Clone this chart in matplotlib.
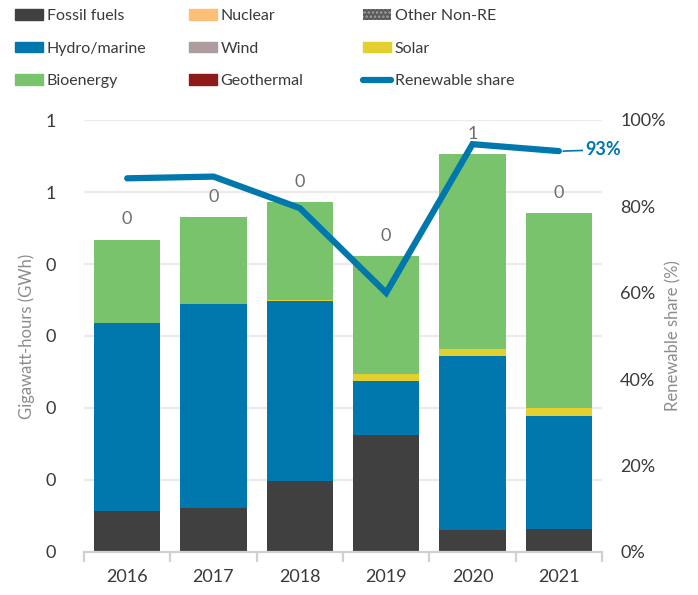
import math
import matplotlib
matplotlib.use("Agg")
import matplotlib.pyplot as plt
from matplotlib.patches import Patch
from matplotlib.lines import Line2D
from matplotlib.ticker import FuncFormatter, FixedLocator

plt.rcParams["font.family"] = ["Lato", "DejaVu Sans"]
plt.rcParams["hatch.linewidth"] = 1.2

years = ["2016", "2017", "2018", "2019", "2020", "2021"]
fossil = [0.057, 0.061, 0.098, 0.162, 0.030, 0.032]
nuclear = [0, 0, 0, 0, 0, 0]
other_non_re = [0, 0, 0, 0, 0, 0]
hydro = [0.261, 0.283, 0.250, 0.075, 0.242, 0.157]
wind = [0, 0, 0, 0, 0, 0]
solar = [0.0, 0.001, 0.002, 0.010, 0.010, 0.011]
bioenergy = [0.116, 0.120, 0.136, 0.164, 0.271, 0.271]
geothermal = [0, 0, 0, 0, 0, 0]
re_share = [86.5, 86.9, 79.6, 60.0, 94.4, 92.8]

C_FOSSIL = "#404040"
C_NUCLEAR = "#FDBE78"
C_OTHER = "#5A5A5A"
C_HYDRO = "#0077AD"
C_WIND = "#AC9C9E"
C_SOLAR = "#E3CF2E"
C_BIO = "#78C36C"
C_GEO = "#8E1A1A"
C_LINE = "#0077AD"
TXT = "#3A3A3A"
GREY = "#6E6E6E"
LGREY = "#8C8C8C"


def excel_round(v):
    return f"{math.floor(v + 0.5 + 1e-9):d}"


fig = plt.figure(figsize=(6.98, 5.95), dpi=100)
ax = fig.add_axes([84 / 698, 43 / 595, 518 / 698, 432 / 595])
ax2 = ax.twinx()

x = list(range(len(years)))
bottom = [0.0] * len(years)
stack = [
    (fossil, C_FOSSIL), (nuclear, C_NUCLEAR), (other_non_re, C_OTHER),
    (hydro, C_HYDRO), (wind, C_WIND), (solar, C_SOLAR),
    (bioenergy, C_BIO), (geothermal, C_GEO),
]
for vals, col in stack:
    ax.bar(x, vals, bottom=bottom, width=0.77, color=col, linewidth=0, zorder=2)
    bottom = [b + v for b, v in zip(bottom, vals)]

for xi, t in zip(x, bottom):
    ax.text(xi, t + 0.017, excel_round(t), ha="center", va="bottom",
            fontsize=13, color=GREY, zorder=3)

ax.set_xlim(-0.5, len(years) - 0.5)
ax.set_ylim(0, 0.6)
ax.yaxis.set_major_locator(FixedLocator([0, 0.1, 0.2, 0.3, 0.4, 0.5, 0.6]))
ax.yaxis.set_major_formatter(FuncFormatter(lambda v, p: excel_round(v)))
ax.grid(axis="y", color="#EBEBEB", linewidth=1.6, zorder=0)
ax.set_axisbelow(True)
for s in ["top", "left", "right"]:
    ax.spines[s].set_visible(False)
ax.spines["bottom"].set_color("#D0D0D0")
ax.spines["bottom"].set_linewidth(1.6)
ax.set_xticks(x)
ax.set_xticklabels(years)
ax.set_xticks([i - 0.5 for i in range(len(years) + 1)], minor=True)
ax.tick_params(axis="x", which="major", length=0, pad=12, labelsize=13, labelcolor=TXT)
ax.tick_params(axis="x", which="minor", length=7, width=1.6, color="#D0D0D0")
ax.tick_params(axis="y", length=0, pad=20, labelsize=13, labelcolor=TXT)
ax.set_ylabel("Gigawatt-hours (GWh)", fontsize=12, color=LGREY, labelpad=8)

ax2.plot(x, re_share, color=C_LINE, linewidth=4.5, solid_capstyle="round",
         solid_joinstyle="miter", zorder=4)
ax2.set_ylim(0, 100)
ax2.set_yticks([0, 20, 40, 60, 80, 100])
ax2.set_yticklabels([f"{v}%" for v in [0, 20, 40, 60, 80, 100]])
ax2.tick_params(axis="y", length=0, pad=13, labelsize=13, labelcolor=TXT)
for s in ax2.spines.values():
    s.set_visible(False)
ax2.set_ylabel("Renewable share (%)", fontsize=12, color=LGREY, labelpad=0)
ax2.annotate(f"{re_share[-1]:.0f}%", xy=(x[-1] + 0.05, re_share[-1]),
             xytext=(16, 1), textcoords="offset points", ha="left", va="center",
             fontsize=13, fontweight="bold", color=C_LINE,
             bbox=dict(boxstyle="square,pad=0.15", fc="white", ec="none"),
             arrowprops=dict(arrowstyle="-", color=C_LINE, lw=1.2,
                             shrinkA=0, shrinkB=0))

handles = [
    [Patch(color=C_FOSSIL, label="Fossil fuels"),
     Patch(color=C_HYDRO, label="Hydro/marine"),
     Patch(color=C_BIO, label="Bioenergy")],
    [Patch(color=C_NUCLEAR, label="Nuclear"),
     Patch(color=C_WIND, label="Wind"),
     Patch(color=C_GEO, label="Geothermal")],
    [Patch(facecolor=C_OTHER, edgecolor="#A0A0A0", hatch="....", linewidth=0,
           label="Other Non-RE"),
     Patch(color=C_SOLAR, label="Solar"),
     Line2D([0], [0], color=C_LINE, linewidth=4.5, solid_capstyle="round",
            label="Renewable share")],
]
for col_x, hs in zip([9, 183, 357], handles):
    leg = fig.legend(handles=hs, loc="upper left",
                     bbox_to_anchor=(col_x / 698, 1 - 3 / 595),
                     frameon=False, fontsize=11.5, handlelength=1.7,
                     handleheight=0.65, handletextpad=0.25, labelspacing=1.15,
                     borderaxespad=0)
    for t in leg.get_texts():
        t.set_color(TXT)

fig.savefig("out.png", dpi=100)
